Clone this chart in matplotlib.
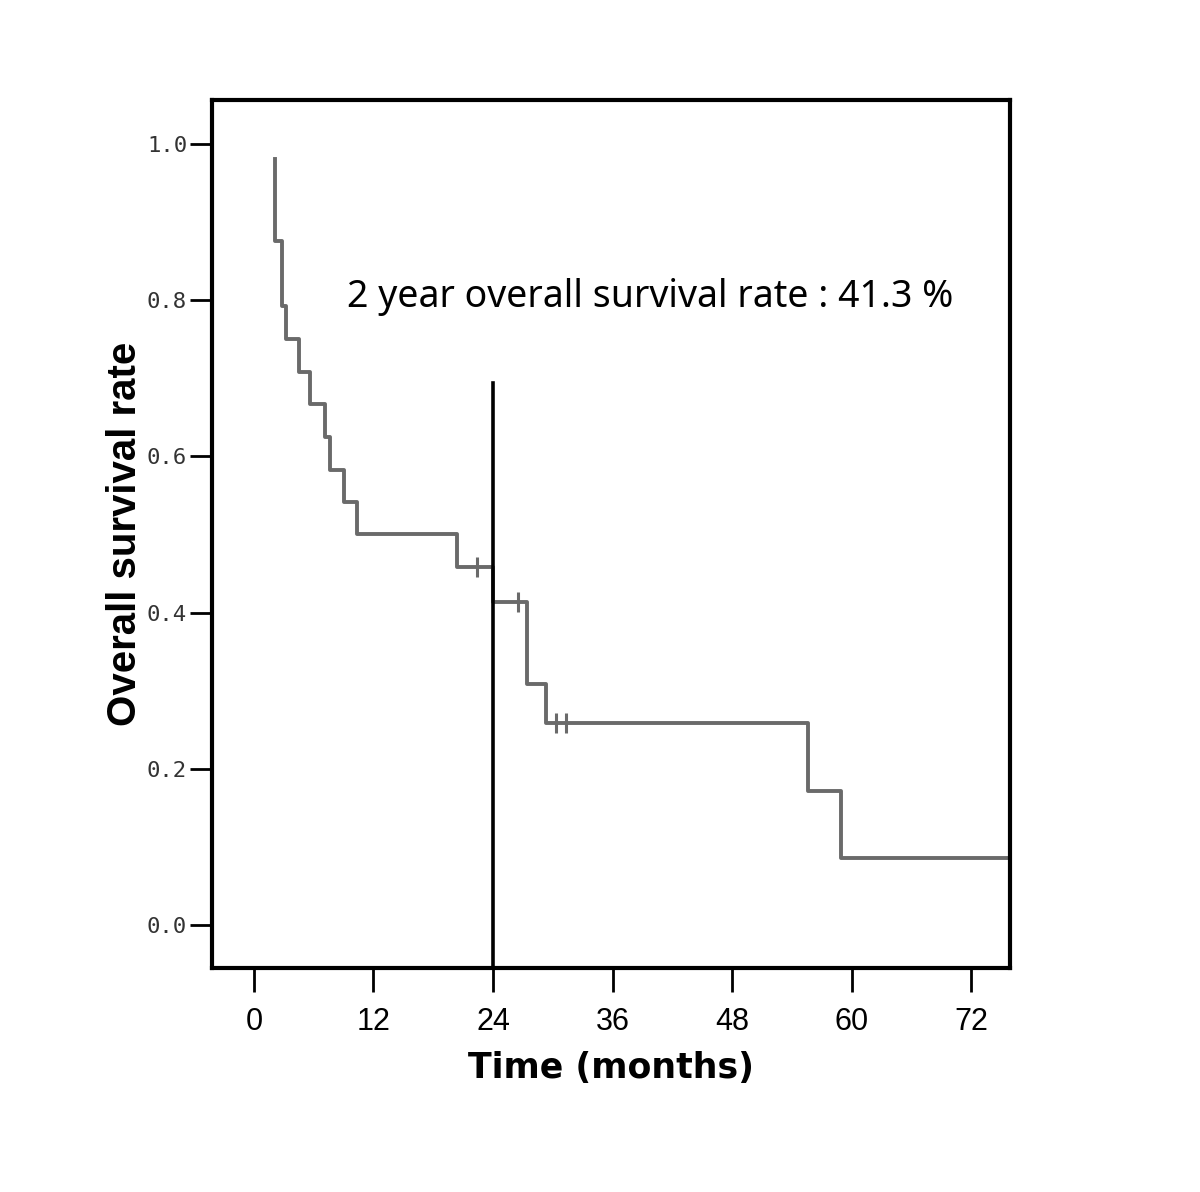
import matplotlib
matplotlib.use("Agg")
from matplotlib import pyplot as plt

# Kaplan-Meier curve (time in months, survival after each drop)
km_times = [2.1, 2.1, 2.15, 2.8, 2.85, 3.2, 4.5, 5.6, 7.1, 7.6, 9.0, 10.4,
            20.4, 24.0, 27.4, 29.3, 55.6, 58.9, 76.0]
km_surv = [0.98, 0.917, 0.875, 0.833, 0.792, 0.75, 0.708, 0.667, 0.625, 0.583,
           0.542, 0.5, 0.458, 0.413, 0.309, 0.258, 0.172, 0.086, 0.086]

# censored observations
cens_times = [22.4, 26.5, 30.3, 31.3]
cens_surv = [0.458, 0.413, 0.258, 0.258]

x_ticks = [0, 12, 24, 36, 48, 60, 72]
y_ticks = [0.0, 0.2, 0.4, 0.6, 0.8, 1.0]

mark_time = 24
mark_top = 0.694
note = "2 year overall survival rate : 41.3 %"

fig = plt.figure(figsize=(12, 11.92), dpi=100)
ax = fig.add_axes([0.1767, 0.1879, 0.665, 0.7282])

ax.step(km_times, km_surv, where='post', color='#6a6a6a', linewidth=2.8)
ax.plot(cens_times, cens_surv, linestyle='none', marker='|', markersize=14,
        markeredgewidth=2.2, color='#6a6a6a')

ax.set_xlim(-4.2, 75.9)
ax.set_ylim(-0.055, 1.056)
ax.plot([mark_time, mark_time], [-0.055, mark_top], color='black', linewidth=2.6)

ax.text(9.3, 0.804, note, fontsize=27, family='Noto Sans', ha='left', va='center')

ax.set_xticks(x_ticks)
ax.set_xticklabels([str(t) for t in x_ticks], family='Liberation Sans',
                   fontsize=22)
ax.set_yticks(y_ticks)
ax.set_yticklabels(['%.1f' % v for v in y_ticks], family='DejaVu Sans Mono',
                   fontsize=16, color='#333333')

for s in ax.spines.values():
    s.set_linewidth(3)
ax.tick_params(axis='x', direction='out', length=17, width=2, pad=11)
ax.tick_params(axis='y', direction='out', length=16, width=2, pad=2)

ax.set_xlabel('Time (months)', fontsize=25, fontweight='bold', labelpad=10)
ax.set_ylabel('Overall survival rate', fontsize=29, fontweight='bold',
              family='Liberation Sans', labelpad=2)

fig.savefig('out.png', dpi=100, facecolor='white')
